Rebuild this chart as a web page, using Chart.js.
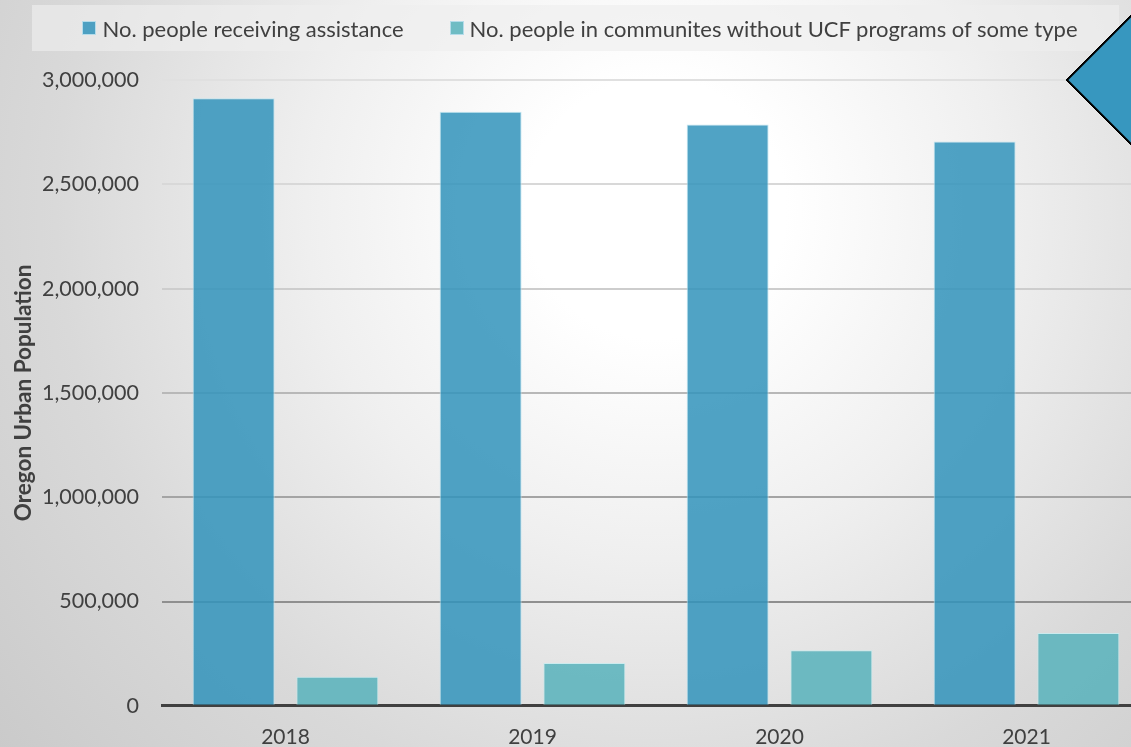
<!DOCTYPE html>
<html>
<head>
<meta charset="utf-8">
<script src="https://cdn.jsdelivr.net/npm/chart.js@4.4.1/dist/chart.umd.min.js"></script>
<style>
  html, body {
    margin: 0;
    width: 1131px;
    height: 747px;
    overflow: hidden;
  }
  body {
    position: relative;
    background: radial-gradient(circle at 656px 209px, #ffffff 0px, #ffffff 130px, #efefef 350px, #d9d9d9 600px, #cacaca 850px);
    font-family: Lato, "Open Sans", sans-serif;
  }
  #chart {
    position: absolute;
    left: 0;
    top: 0;
  }
  #legend {
    position: absolute;
    left: 32px;
    top: 5px;
    width: 1087px;
    height: 46px;
    padding-left: 9px;
    box-sizing: border-box;
    background: rgba(238, 238, 238, 0.65);
    display: flex;
    align-items: center;
    justify-content: center;
    gap: 46px;
    font-size: 22px;
    color: #404040;
  }
  #legend .item {
    display: flex;
    align-items: center;
    white-space: nowrap;
  }
  #legend .swatch {
    width: 14px;
    height: 14px;
    box-sizing: border-box;
    border: 1px solid #b5dcea;
    margin-right: 6px;
  }
  #diamond {
    position: absolute;
    left: 1095px;
    top: 9px;
    width: 142px;
    height: 142px;
    box-sizing: border-box;
    background: #3797bf;
    border: 2px solid #000;
    transform: rotate(45deg);
  }
</style>
</head>
<body>
<canvas id="chart" width="1160" height="770"></canvas>
<div id="legend"></div>
<div id="diamond"></div>
<script>
// data
let years = ["2018", "2019", "2020", "2021"];
let receiving = [2912000, 2848000, 2787000, 2705000];
let without_ucf = [139000, 205000, 266000, 349000];
let series_labels = [
    "No. people receiving assistance",
    "No. people in communites without UCF programs of some type",
];
let y_ticks = [0, 500000, 1000000, 1500000, 2000000, 2500000, 3000000];

// gridlines get darker towards the bottom
let grid_colors = {
    0: "rgba(0,0,0,0)",
    500000: "#8f8f8f",
    1000000: "#a4a4a4",
    1500000: "#b8b8b8",
    2000000: "#cdcdcd",
    2500000: "#d8d8d8",
    3000000: "#e0e0e0",
};

let textColor = "#404040";

let chart = new Chart(document.getElementById("chart"), {
    type: "bar",
    data: {
        labels: years,
        datasets: [
            {
                label: series_labels[0],
                data: receiving,
                backgroundColor: "rgba(51,148,188,0.86)",
                borderColor: "rgba(190,228,240,0.9)",
                borderWidth: 1,
            },
            {
                label: series_labels[1],
                data: without_ucf,
                backgroundColor: "rgba(88,178,187,0.86)",
                borderColor: "rgba(200,235,238,0.9)",
                borderWidth: 1,
            },
        ],
    },
    options: {
        responsive: false,
        animation: false,
        devicePixelRatio: 1,
        layout: {
            padding: { top: 80, right: 10, bottom: 1, left: 0 },
        },
        datasets: {
            bar: {
                categoryPercentage: 0.84,
                barPercentage: 0.79,
            },
        },
        scales: {
            x: {
                grid: { display: false, drawTicks: false },
                border: { display: true, color: "#404040", width: 3 },
                ticks: {
                    color: textColor,
                    font: { family: "Lato", size: 21 },
                    padding: 19,
                },
            },
            y: {
                min: 0,
                max: 3000000,
                afterFit: function (scale) {
                    scale.width = 162;
                },
                afterBuildTicks: function (scale) {
                    scale.ticks = y_ticks.map(function (v) {
                        return { value: v };
                    });
                },
                grid: {
                    drawTicks: false,
                    lineWidth: 2,
                    color: function (ctx) {
                        return grid_colors[ctx.tick.value] || "#cccccc";
                    },
                },
                border: { display: false },
                ticks: {
                    color: textColor,
                    font: { family: "Lato", size: 21.5 },
                    padding: 23,
                    callback: function (value) {
                        return value.toLocaleString("en-US");
                    },
                },
                title: {
                    display: true,
                    text: "Oregon Urban Population",
                    color: textColor,
                    font: { family: "Lato", size: 22.5, weight: "bold" },
                    padding: { top: 10, bottom: 0 },
                },
            },
        },
        plugins: {
            legend: { display: false },
            tooltip: { enabled: false },
        },
    },
});

// html legend built from the chart's datasets
let legend = document.getElementById("legend");
chart.data.datasets.forEach(function (ds) {
    let item = document.createElement("span");
    item.className = "item";
    let sw = document.createElement("span");
    sw.className = "swatch";
    sw.style.background = ds.backgroundColor;
    item.appendChild(sw);
    item.appendChild(document.createTextNode(ds.label));
    legend.appendChild(item);
});
</script>
</body>
</html>
